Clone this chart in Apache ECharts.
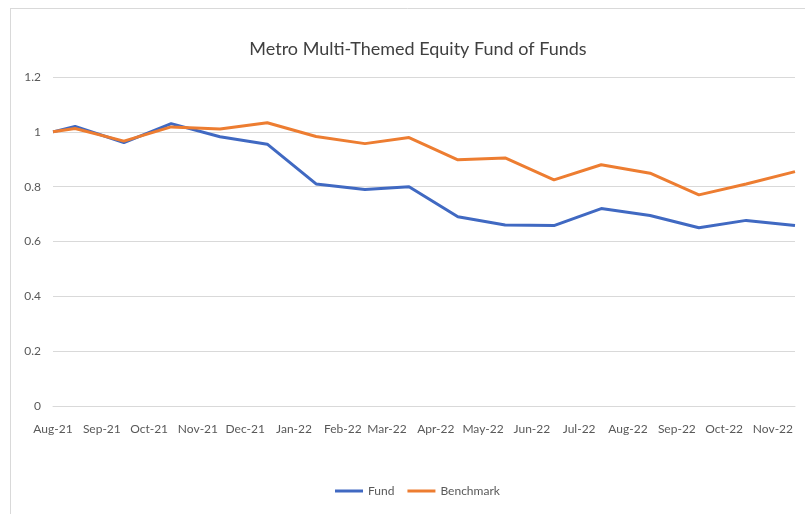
<!DOCTYPE html>
<html lang="en">
<head>
  <meta charset="UTF-8">
  <title>Metro Multi-Themed Equity Fund of Funds</title>
  <script type="text/javascript" src="https://cdn.jsdelivr.net/npm/echarts@6/dist/echarts.min.js"></script>
  <style>
    html, body { margin: 0; padding: 0; background: #fff; }
    #main { width: 805px; height: 514px; }
  </style>
</head>
<body>
  <div id="main"></div>
  <script type="text/javascript">
    // NAV dates (first = inception, then mid-month)
    var dates = ['2021-08-01', '2021-08-15', '2021-09-15', '2021-10-15', '2021-11-15', '2021-12-15',
      '2022-01-15', '2022-02-15', '2022-03-15', '2022-04-15', '2022-05-15', '2022-06-15',
      '2022-07-15', '2022-08-15', '2022-09-15', '2022-10-15', '2022-11-15'];
    var fund = [1.00, 1.02, 0.961, 1.03, 0.982, 0.955, 0.81, 0.79, 0.80, 0.69, 0.66, 0.658,
      0.72, 0.695, 0.65, 0.677, 0.658];
    var benchmark = [1.00, 1.012, 0.966, 1.018, 1.01, 1.033, 0.983, 0.957, 0.979, 0.898, 0.905, 0.825,
      0.88, 0.849, 0.77, 0.81, 0.855];
    // month labels on the x axis
    var tickMonths = ['2021-08', '2021-09', '2021-10', '2021-11', '2021-12', '2022-01', '2022-02', '2022-03',
      '2022-04', '2022-05', '2022-06', '2022-07', '2022-08', '2022-09', '2022-10', '2022-11'];
    var monthNames = ['Jan', 'Feb', 'Mar', 'Apr', 'May', 'Jun', 'Jul', 'Aug', 'Sep', 'Oct', 'Nov', 'Dec'];

    function ts(s) {
      var p = s.split('-');
      return Date.UTC(+p[0], +p[1] - 1, p[2] ? +p[2] : 1);
    }

    var tickValues = tickMonths.map(ts);
    var fundData = dates.map(function (d, i) { return [ts(d), fund[i]]; });
    var benchData = dates.map(function (d, i) { return [ts(d), benchmark[i]]; });

    var chart = echarts.init(document.getElementById('main'), null, { renderer: 'canvas' });

    var option = {
      backgroundColor: '#fff',
      animation: false,
      textStyle: { fontFamily: 'Lato' },
      title: {
        text: 'Metro Multi-Themed Equity Fund of Funds',
        left: 413,
        textAlign: 'center',
        top: 35,
        textStyle: { fontFamily: 'Lato', fontSize: 18, fontWeight: 'normal', color: '#404040' }
      },
      graphic: [
        { type: 'line', shape: { x1: 10, y1: 8.5, x2: 805, y2: 8.5 }, style: { stroke: '#d9d9d9', lineWidth: 1 } },
        { type: 'line', shape: { x1: 10.5, y1: 8, x2: 10.5, y2: 514 }, style: { stroke: '#d9d9d9', lineWidth: 1 } }
      ],
      legend: {
        bottom: 12,
        left: 330,
        itemWidth: 28,
        itemHeight: 3,
        itemGap: 13,
        icon: 'rect',
        textStyle: { fontFamily: 'Lato', fontSize: 12, color: '#595959' },
        data: ['Fund', 'Benchmark']
      },
      grid: { left: 53, right: 10, top: 77, bottom: 108, containLabel: false },
      xAxis: {
        type: 'value',
        min: ts(dates[0]),
        max: ts(dates[dates.length - 1]),
        axisLine: { show: true, onZero: false, lineStyle: { color: '#d9d9d9', width: 1 } },
        axisTick: { show: false },
        splitLine: { show: false },
        axisLabel: {
          customValues: tickValues,
          showMinLabel: true,
          showMaxLabel: true,
          margin: 17,
          fontSize: 12,
          color: '#595959',
          hideOverlap: false,
          formatter: function (v) {
            var d = new Date(v);
            return monthNames[d.getUTCMonth()] + '-' + String(d.getUTCFullYear()).slice(2);
          }
        }
      },
      yAxis: {
        type: 'value',
        min: 0,
        max: 1.2,
        interval: 0.2,
        axisLine: { show: false },
        axisTick: { show: false },
        axisLabel: { margin: 12, fontSize: 12, color: '#595959' },
        splitLine: { lineStyle: { color: '#d9d9d9', width: 1 } }
      },
      series: [
        {
          name: 'Fund',
          type: 'line',
          data: fundData,
          showSymbol: false,
          symbol: 'none',
          lineStyle: { width: 3, color: '#4069C2' },
          itemStyle: { color: '#4069C2' }
        },
        {
          name: 'Benchmark',
          type: 'line',
          data: benchData,
          showSymbol: false,
          symbol: 'none',
          lineStyle: { width: 3, color: '#ED7D31' },
          itemStyle: { color: '#ED7D31' }
        }
      ]
    };

    chart.setOption(option);
  </script>
</body>
</html>
